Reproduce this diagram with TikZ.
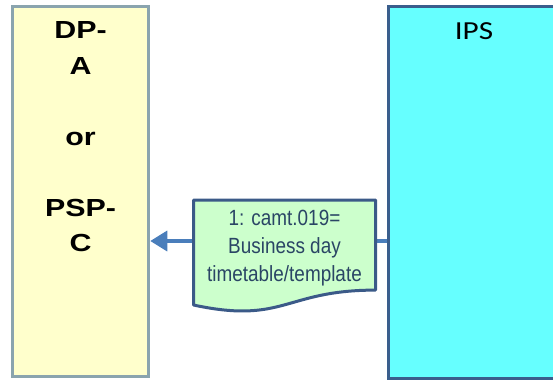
\documentclass[tikz,border=0pt]{standalone}
\usepackage{fontspec}
\usetikzlibrary{arrows.meta}
\newfontfamily\boldwide[FakeStretch=1.23,BoldFeatures={FakeStretch=1.23}]{Liberation Sans}
\newfontfamily\ipsfont[FakeStretch=1.2]{Carlito}
\newfontfamily\narrowfont[FakeStretch=0.86]{Liberation Sans}
\definecolor{leftfill}{HTML}{FFFFCC}
\definecolor{leftedge}{HTML}{8AA4AE}
\definecolor{ipsfill}{HTML}{66FFFF}
\definecolor{ipsedge}{HTML}{3A5E8C}
\definecolor{docfill}{HTML}{CCFFCC}
\definecolor{docedge}{HTML}{3B5A88}
\definecolor{doctext}{HTML}{2A4565}
\definecolor{arrowblue}{HTML}{4A7EBB}
\tikzset{
  lane/.style={draw, line width=3pt, inner sep=0pt, rectangle},
  leftlane/.style={lane, fill=leftfill, draw=leftedge},
  ipslane/.style={lane, fill=ipsfill, draw=ipsedge},
  docshape/.style={draw=docedge, fill=docfill, line width=3pt, line join=round},
  msg/.style={line width=3.5pt, draw=arrowblue, -{Triangle[length=17pt,width=20pt]}},
}
\begin{document}
\begin{tikzpicture}[x=1pt,y=-1pt]
\useasboundingbox (0,0) rectangle (553,380);
% lanes
\node[leftlane, minimum width=136.5pt, minimum height=370.5pt] (dp) at (80.5,191.5) {};
\node[ipslane, minimum width=172pt, minimum height=371.5pt] (ips) at (474,192.25) {};
\node[font=\boldwide\bfseries\fontsize{24.7}{35.5}\selectfont, align=center, inner sep=0pt] (dptext) at (80.5,136.8)
  {DP-\\A\\[35.5pt]or\\[35.5pt]PSP-\\C};
\node[font=\ipsfont\fontsize{26}{30}\selectfont, inner sep=0pt] (ipstext) at (474,31) {IPS};
% connector
\coordinate (m) at (388,241);
\draw[msg] (ips.west |- m) -- (dp.east |- m);
% document shape
\draw[docshape] (193.5,200) -- (375.5,200) -- (375.5,290.1)
  .. controls (284.5,290.1) and (284.5,324.5) .. (193.5,305) -- cycle;
\node[font=\narrowfont\fontsize{22}{28}\selectfont, text=doctext, align=center, inner sep=0pt] (doc) at (284.5,248)
  {1: camt.019=\\Business day\\timetable/template};
\end{tikzpicture}
\end{document}
